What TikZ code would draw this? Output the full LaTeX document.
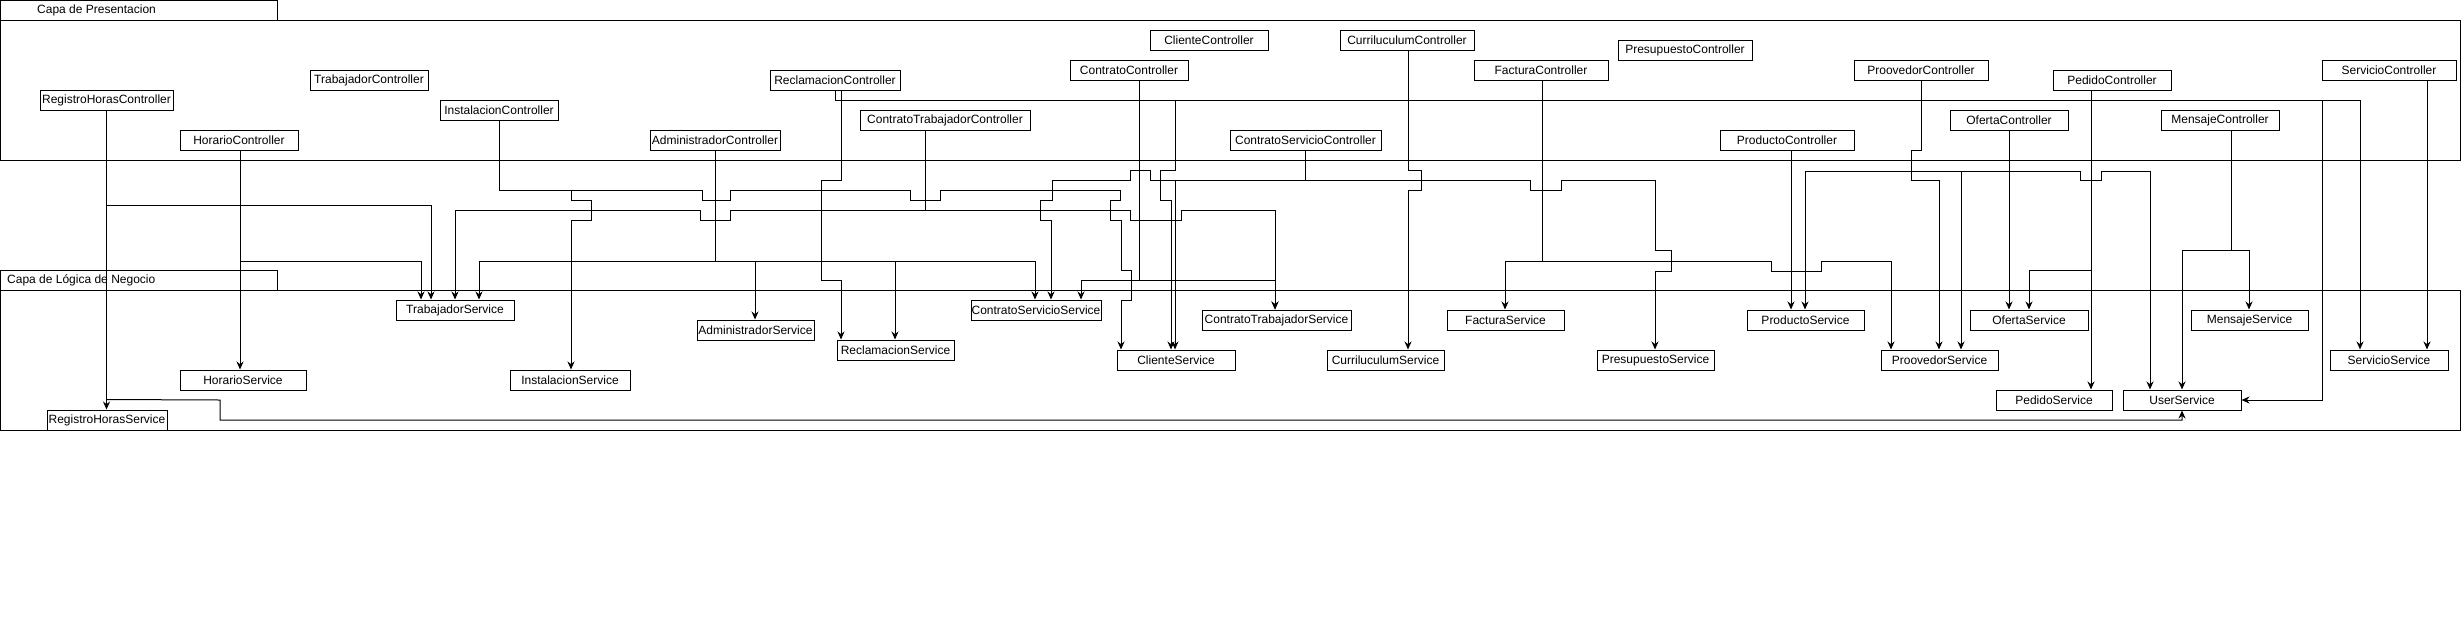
\documentclass[tikz,border=0pt]{standalone}
\usepackage{fontspec}
\setmainfont{Liberation Sans}
\usetikzlibrary{arrows.meta}
\tikzset{
  box/.style={draw, fill=white, line width=1pt, inner sep=0pt, minimum height=20pt, font=\fontsize{12}{14}\selectfont},
  conn/.style={draw, line width=1pt, -{Stealth[length=8pt,width=7pt]}},
  layer/.style={draw, line width=1pt},
  ltext/.style={anchor=west, inner sep=0pt, font=\fontsize{12}{14}\selectfont},
}
\begin{document}
\begin{tikzpicture}[x=1pt,y=-1pt]
\useasboundingbox (0,0) rectangle (2461,641);
% layers
\draw[layer] (0,0) rectangle (277,20);
\draw[layer] (0,20) rectangle (2460,160);
\node[ltext] (l1) at (37,10) {Capa de Presentacion};
\draw[layer] (0,270) rectangle (277,290);
\draw[layer] (0,290) rectangle (2460,430);
\node[ltext] (l2) at (7,280) {Capa de Lógica de Negocio};

% controllers (coordinates only, drawn later)
\path
 (106.5,100) coordinate (rhcP)
 ;
\node[box, minimum width=133] (rhc) at (106.5,100) {RegistroHorasController};
\node[box, minimum width=118] (tc) at (369,80) {TrabajadorController};
\node[box, minimum width=118] (hc) at (239,140) {HorarioController};
\node[box, minimum width=118] (ic) at (499,110) {InstalacionController};
\node[box, minimum width=130] (ac) at (715,140) {AdministradorController};
\node[box, minimum width=130] (rc) at (835,80) {ReclamacionController};
\node[box, minimum width=170] (ctc) at (945,120) {ContratoTrabajadorController};
\node[box, minimum width=118] (coc) at (1129,70) {ContratoController};
\node[box, minimum width=118] (clc) at (1209,40) {ClienteController};
\node[box, minimum width=134] (cuc) at (1407,40) {CurriluculumController};
\node[box, minimum width=151] (csc) at (1305.5,140) {ContratoServicioController};
\node[box, minimum width=134] (fc) at (1541,70) {FacturaController};
\node[box, minimum width=134] (pc) at (1685,50) {PresupuestoController};
\node[box, minimum width=134] (prc) at (1787,140) {ProductoController};
\node[box, minimum width=134] (poc) at (1921,70) {ProovedorController};
\node[box, minimum width=118] (oc) at (2009,120) {OfertaController};
\node[box, minimum width=118] (pec) at (2112,80) {PedidoController};
\node[box, minimum width=118] (mc) at (2220,120) {MensajeController};
\node[box, minimum width=134] (sc) at (2389,70) {ServicioController};

% services
\node[box, minimum width=118] (ts) at (455,310) {TrabajadorService};
\node[box, minimum width=126] (hs) at (243,380) {HorarioService};
\node[box, minimum width=120] (rhs) at (107,420) {RegistroHorasService};
\node[box, minimum width=120] (is) at (570,380) {InstalacionService};
\node[box, minimum width=117] (as) at (755.5,330) {AdministradorService};
\node[box, minimum width=117] (rs) at (895.5,350) {ReclamacionService};
\node[box, minimum width=130] (css) at (1036,310) {ContratoServicioService};
\node[box, minimum width=149] (cts) at (1276.5,320) {ContratoTrabajadorService};
\node[box, minimum width=118] (cls) at (1176,360) {ClienteService};
\node[box, minimum width=117] (cus) at (1385.5,360) {CurriluculumService};
\node[box, minimum width=117] (fs) at (1505.5,320) {FacturaService};
\node[box, minimum width=117] (ps) at (1655.5,360) {PresupuestoService};
\node[box, minimum width=117] (prs) at (1805.5,320) {ProductoService};
\node[box, minimum width=117] (pos) at (1939.5,360) {ProovedorService};
\node[box, minimum width=118] (os) at (2029,320) {OfertaService};
\node[box, minimum width=117] (ms) at (2249.5,320) {MensajeService};
\node[box, minimum width=116] (pes) at (2054,400) {PedidoService};
\node[box, minimum width=118] (us) at (2182,400) {UserService};
\node[box, minimum width=118] (ss) at (2389,360) {ServicioService};

% connectors
\draw[conn] (rhc.south) -- (rhc.south |- rhs.north);
\draw[conn] (rhc.south) |- (431,205) -- (431,0 |- ts.north);
\draw[conn] (240,0 |- hc.south) -- (240,0 |- hs.north);
\draw[conn] (240,0 |- hc.south) |- (421,261) -- (421,0 |- ts.north);
\draw[conn] (ic.south) |- (571,190) -- (571,200) -- (591,200) -- (591,220) -- (571,220) -- (571,0 |- is.north);
\draw[conn] (ic.south) |- (702,190) -- (702,200) -- (730,200) -- (730,190) -- (910,190) -- (910,200) -- (940,200) -- (940,190) -- (1120,190) -- (1120,200) -- (1110,200) -- (1110,220) -- (1121,220) -- (1121,270) -- (1131,270) -- (1131,300) -- (1121,300) -- (1121,0 |- cls.north);
\draw[conn] (ac.south) |- (755,261) -- (755,0 |- as.north);
\draw[conn] (ac.south) |- (479,261) -- (479,0 |- ts.north);
\draw[conn] (ac.south) |- (895,261) -- (895,0 |- rs.north);
\draw[conn] (ac.south) |- (1035,261) -- (1035,0 |- css.north);
\draw[conn] (841,0 |- rc.south) -- (841,180) -- (821,180) -- (821,280) -- (841,280) -- (841,0 |- rs.north);
\draw[conn] (rc.south) -- (835,100) -- (1175,100) -- (1175,170) -- (1160,170) -- (1160,200) -- (1171,200) -- (1171,0 |- cls.north);
\draw[conn] (rc.south) -- (835,100) -- (2322,100) |- (us.east);
\draw[conn] (rc.south) -- (835,100) -- (2360,100) -- (2360,0 |- ss.north);
\draw[conn] (925,0 |- ctc.south) -- (925,210) -- (730,210) -- (730,220) -- (700,220) -- (700,210) -- (455,210) -- (ts.north);
\draw[conn] (925,0 |- ctc.south) -- (925,210) -- (1130,210) -- (1130,220) -- (1181,220) -- (1181,210) -- (1275,210) -- (1275,0 |- cts.north);
\draw[conn] (1139,0 |- coc.south) -- (1139,280) -- (1081,280) -- (1081,0 |- css.north);
\draw[conn] (1139,0 |- coc.south) -- (1139,280) -- (1275,280) -- (1275,0 |- cts.north);
\draw[conn] (csc.south) |- (1175,180) -- (1175,0 |- cls.north);
\draw[conn] (csc.south) |- (1150,180) -- (1150,170) -- (1130,170) -- (1130,180) -- (1052,180) -- (1052,200) -- (1040,200) -- (1040,220) -- (1051,220) -- (1051,0 |- css.north);
\draw[conn] (csc.south) |- (1530,180) -- (1530,190) -- (1561,190) -- (1561,180) -- (1655,180) -- (1655,250) -- (1671,250) -- (1671,271) -- (1655,271) -- (1655,0 |- ps.north);
\draw[conn] (1408,0 |- cuc.south) -- (1408,170) -- (1421,170) -- (1421,190) -- (1408,190) -- (1408,0 |- cus.north);
\draw[conn] (1542,0 |- fc.south) |- (1505,261) -- (1505,0 |- fs.north);
\draw[conn] (1542,0 |- fc.south) |- (1771,261) -- (1771,271) -- (1821,271) -- (1821,261) -- (1891,261) -- (1891,0 |- pos.north);
\draw[conn] (1791,0 |- prc.south) -- (1791,0 |- prs.north);
\draw[conn] (poc.south) -- (1921,150) -- (1911,150) -- (1911,180) -- (1939,180) -- (1939,0 |- pos.north);
\draw[conn] (oc.south) -- (2009,0 |- os.north);
\draw[conn] (oc.south) |- (1805,171) -- (1805,0 |- prs.north);
\draw[conn] (oc.south) |- (1961,171) -- (1961,0 |- pos.north);
\draw[conn] (oc.south) |- (2080,171) -- (2080,180) -- (2101,180) -- (2101,171) -- (2150,171) -- (2150,0 |- us.north);
\draw[conn] (2091,0 |- pec.south) |- (2029,270) -- (2029,0 |- os.north);
\draw[conn] (2091,0 |- pec.south) -- (2091,0 |- pes.north);
\draw[conn] (2231,0 |- mc.south) |- (2182,250) -- (2182,0 |- us.north);
\draw[conn] (2231,0 |- mc.south) |- (2249,250) -- (2249,0 |- ms.north);
\draw[conn] (2427,0 |- sc.south) -- (2427,0 |- ss.north);
\draw[conn] ([yshift=10pt]rhs.north) -- (220,400) -- (220,420) -- (2182,420) -- (us.south);
\end{tikzpicture}
\end{document}
